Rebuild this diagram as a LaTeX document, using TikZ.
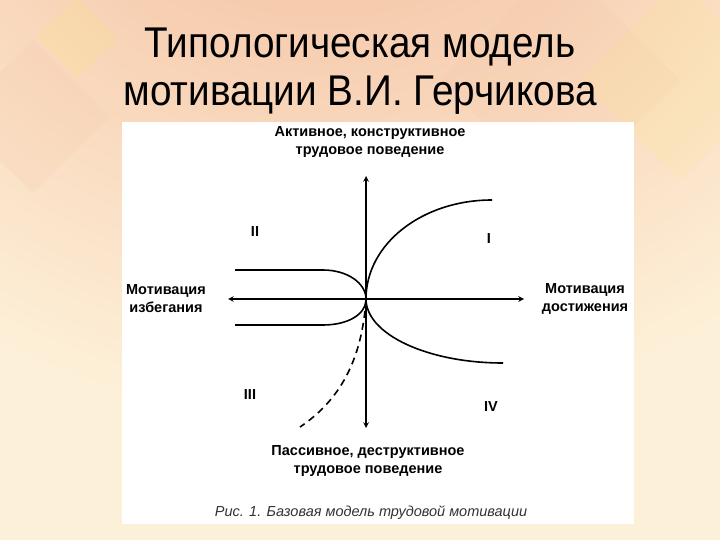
\documentclass[tikz,border=0pt]{standalone}
\usepackage{fontspec}
\usepackage{tikz}
\usetikzlibrary{shapes.geometric, arrows}
\setmainfont{Liberation Sans}
\newfontfamily\titlefont[FakeStretch=0.9]{Liberation Sans}
\newfontfamily\labelfont{Liberation Sans}

\definecolor{cream}{HTML}{FDF0D8}
\definecolor{salmon}{HTML}{F4BFA0}
\definecolor{captiongray}{HTML}{333333}

\pgfdeclareradialshading{glow}{\pgfpoint{-1.5bp}{24bp}}{color(0bp)=(salmon); color(7bp)=(salmon!80!cream); color(21bp)=(cream); color(50bp)=(cream)}

\tikzstyle{titletext} = [font=\titlefont\fontsize{43}{48}\selectfont, align=center, inner sep=0pt]
\tikzstyle{axislabel} = [font=\labelfont\bfseries\fontsize{14.5}{18}\selectfont, align=center, inner sep=0pt]
\tikzstyle{quadrant} = [font=\labelfont\bfseries\fontsize{14.5}{16}\selectfont, inner sep=0pt]
\tikzstyle{axis} = [line width=1.5pt,<->,>=stealth]
\tikzstyle{curve} = [line width=1.6pt]
\tikzstyle{diamond} = [opacity=0.12]

\begin{document}
\begin{tikzpicture}[x=1pt, y=-1pt]
      \useasboundingbox (0,0) rectangle (720,540);

      % background
      \shade[shading=glow] (-360,-270) rectangle (1080,810);
      \fill[diamond, fill=yellow!60!cream] (77,-2) -- (118,38) -- (77,78) -- (36,38) -- cycle;
      \fill[diamond, fill=salmon] (33,40) -- (110,117) -- (33,194) -- (-44,117) -- cycle;
      \fill[diamond, fill=salmon] (560,-40) -- (680,80) -- (560,200) -- (440,80) -- cycle;
      \fill[diamond, fill=yellow!50!cream] (680,-20) -- (780,80) -- (680,180) -- (580,80) -- cycle;

      \node (title) [titletext, anchor=base] at (360,106) {Типологическая модель\\мотивации В.И. Герчикова};

      \fill[white] (122,122) rectangle (634,524);

      % axes
      \coordinate (o) at (366,299);
      \coordinate (up) at (366,176);
      \coordinate (down) at (366,428);
      \coordinate (left) at (228,299);
      \coordinate (right) at (524,299);
      \draw [axis] (down) -- (up);
      \draw [axis] (left) -- (right);

      \node (active) [axislabel] at (370,142) {Активное, конструктивное\\трудовое поведение};
      \node (passive) [axislabel] at (368,461) {Пассивное, деструктивное\\трудовое поведение};
      \node (avoid) [axislabel] at (166,299) {Мотивация\\избегания};
      \node (achieve) [axislabel] at (585,299) {Мотивация\\достижения};

      % curves
      \coordinate (iend) at (492,200);
      \coordinate (ivend) at (503,363);
      \coordinate (iistart) at (235,270);
      \coordinate (iibend) at (323,270);
      \coordinate (lowstart) at (235,325);
      \coordinate (lowbend) at (323,325);
      \coordinate (iiiend) at (300,427);

      \draw [curve] (o) .. controls +(0,-55) and +(-70,0) .. (iend);
      \draw [curve] (o) .. controls +(0,35) and +(-76,0) .. (ivend);
      \draw [curve] (iistart) -- (iibend) .. controls +(24,0) and +(0,-16) .. (o);
      \draw [curve] (lowstart) -- (lowbend) .. controls +(24,0) and +(0,16) .. (o);
      \draw [curve, dash pattern=on 7pt off 5pt] (o) .. controls (362,360) and (340,400) .. (iiiend);

      \node (q1) [quadrant] at (489,239) {I};
      \node (q2) [quadrant] at (255,232) {II};
      \node (q3) [quadrant] at (250,395) {III};
      \node (q4) [quadrant] at (491,407) {IV};

      \node (caption) [font=\labelfont\itshape\fontsize{14.5}{16}\selectfont, text=captiongray, inner sep=0pt] at (371,513) {Рис. 1. Базовая модель трудовой мотивации};
\end{tikzpicture}
\end{document}
